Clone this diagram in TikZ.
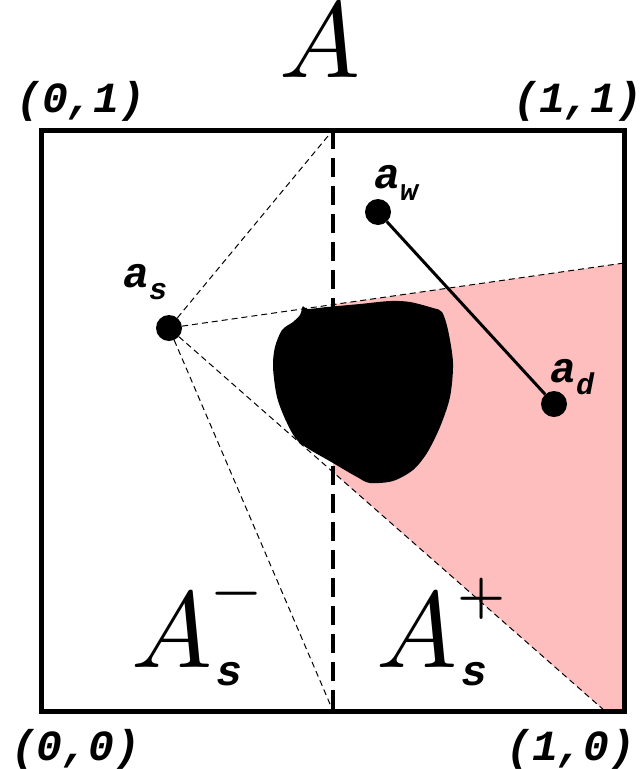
\documentclass[tikz,border=0pt]{standalone}
\usepackage{unicode-math}
\newfontfamily\monofam{Liberation Mono}
\newcommand\labfont{\monofam\bfseries\itshape\fontsize{43}{43}\selectfont}
\newcommand\subfont{\monofam\bfseries\itshape\fontsize{30}{30}\selectfont}
\newcommand\sublab[1]{\raisebox{-12pt}{\subfont #1}}
\newcommand\signfont{\bfseries\fontsize{55}{55}\selectfont}
\usetikzlibrary{positioning,calc}
\definecolor{shadow}{RGB}{255,190,190}

\begin{document}
\begin{tikzpicture}[x=1pt,y=-1pt,
   dot/.style={circle,fill=black,inner sep=0pt,minimum size=26pt},
   lbl/.style={inner sep=0pt,anchor=base west,font=\labfont},
   region/.style={inner sep=0pt,anchor=base west,font=\fontsize{108}{108}\selectfont},
   ray/.style={dash pattern=on 6pt off 4pt,line width=1pt},
   divider/.style={dash pattern=on 19pt off 9pt,line width=3.5pt}]
  \useasboundingbox (0,0) rectangle (644,769);
  % corners of the unit square
  \coordinate (sw) at (41,711);
  \coordinate (ne) at (624,130);
  \coordinate (mtop) at (333,130);
  \coordinate (mbot) at (333,711);
  \coordinate (rt) at (624,263);
  \coordinate (rb) at (605,711);
  % shadow behind the obstacle
  \fill[shadow] (333,304.6) -- (rt) -- (624,711) -- (rb) -- (333,472) -- cycle;
  \node[dot] (as) at (169,328) {};
  \node[dot] (aw) at (378,212) {};
  \node[dot] (ad) at (554,404) {};
  \path[draw]
   (as) edge[ray] (mtop)
   (as) edge[ray] (rt)
   (as) edge[ray] (rb)
   (as) edge[ray] (mbot);
  \draw[divider] (mtop) -- (mbot);
  % obstacle
  \fill[black] plot[smooth cycle] coordinates {
    (307,309) (327,307) (360,304) (390,301) (410,302) (433,308) (442,312)
    (448,330) (453,363) (450,397) (440,427) (427,453) (413,470) (393,481)
    (370,483) (357,477) (333,463) (300,443) (287,423) (277,397) (273,367)
    (275,347) (282,330) (293,322) (300,315) (303,306)};
  \draw[line width=5pt] (sw) rectangle (ne);
  \draw[line width=3pt] (aw) -- (ad);
  % labels
  \node[lbl] (las) at (123,287) {a\sublab{s}};
  \node[lbl] (law) at (374,188) {a\sublab{w}};
  \node[lbl] (lad) at (550,382) {a\sublab{d}};
  \node[lbl] (c01) at (16,112) {(0,1)};
  \node[lbl] (c11) at (513,112) {(1,1)};
  \node[lbl] (c00) at (11,760) {(0,0)};
  \node[lbl] (c10) at (506,760) {(1,0)};
  \node[region] (top) at (279,77) {$A$};
  \node[region] (aminus) at (131,667)
    {$A$\rlap{\raisebox{60pt}{\signfont −}}\kern4pt\raisebox{-18pt}{\labfont s}};
  \node[region] (aplus) at (376,667)
    {$A$\rlap{\raisebox{55pt}{\signfont +}}\kern4pt\raisebox{-18pt}{\labfont s}};
\end{tikzpicture}
\end{document}
